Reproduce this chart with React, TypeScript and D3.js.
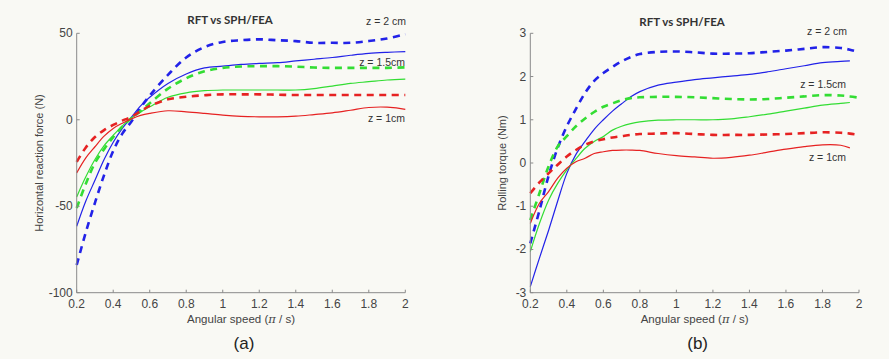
import React from 'react';
import * as d3 from 'd3';

// panel (a): horizontal reaction force
const xA = [0.2, 0.25, 0.3, 0.35, 0.4, 0.45, 0.5, 0.55, 0.6, 0.7, 0.8, 0.9, 1.0, 1.1, 1.2, 1.3, 1.4, 1.5, 1.6, 1.7, 1.8, 1.9, 2.0];
const blueDashA = [-84, -65, -48, -32, -18, -8, -1, 7, 14, 26, 36, 42, 45, 46, 46.5, 46, 45.5, 44.5, 44.5, 44.5, 45.5, 47, 49.5];
const blueA = [-61.6, -47, -35, -23, -13, -5, 1.5, 8, 13, 21, 26.5, 30, 31, 32, 32.6, 33, 34, 35, 36, 37.3, 38.4, 39, 39.4];
const greenDashA = [-51, -37, -25, -17, -10, -4, 1, 5, 9.5, 18, 24, 28, 30, 30.8, 31, 31, 30.7, 30.2, 30, 30, 30, 30, 30.3];
const greenA = [-44.6, -33, -23, -15, -9, -3.5, 1, 4.5, 7.5, 13, 15.6, 16.8, 17.2, 17.2, 17.2, 17.2, 17.2, 18, 19.5, 21, 22, 23, 23.5];
const redDashA = [-24.3, -16, -10, -6, -3, -0.5, 1.7, 5, 8, 11.8, 13.3, 14.2, 14.7, 14.7, 14.7, 14.5, 14.3, 14.3, 14.3, 14.3, 14.3, 14.3, 14.3];
const redA = [-30.7, -22, -15.6, -9.5, -5, -2, 0.5, 2.5, 3.7, 5.2, 4.6, 3.7, 2.7, 2, 1.7, 1.7, 2.1, 3, 4, 5.5, 7.1, 7.3, 6];

// panel (b): rolling torque
const xB = [0.2, 0.25, 0.3, 0.35, 0.4, 0.45, 0.5, 0.55, 0.6, 0.65, 0.7, 0.75, 0.8, 0.9, 1.0, 1.1, 1.2, 1.3, 1.4, 1.5, 1.6, 1.7, 1.8, 1.9, 1.95, 2.0];
const blueDashB = [-1.86, -1.1, -0.3, 0.35, 0.85, 1.25, 1.62, 1.9, 2.08, 2.22, 2.35, 2.45, 2.52, 2.57, 2.58, 2.56, 2.53, 2.53, 2.54, 2.57, 2.6, 2.64, 2.68, 2.66, 2.62, 2.56];
const blueB = [-2.86, -2.2, -1.56, -0.88, -0.24, 0.2, 0.5, 0.78, 1.0, 1.2, 1.37, 1.53, 1.65, 1.8, 1.87, 1.93, 1.97, 2.01, 2.05, 2.11, 2.18, 2.25, 2.32, 2.35, 2.36, null];
const greenDashB = [-1.32, -0.7, -0.08, 0.38, 0.62, 0.85, 1.03, 1.18, 1.3, 1.38, 1.45, 1.5, 1.52, 1.53, 1.53, 1.52, 1.5, 1.48, 1.47, 1.48, 1.51, 1.54, 1.57, 1.56, 1.54, 1.51];
const greenB = [-2.05, -1.4, -0.86, -0.47, -0.16, 0.1, 0.34, 0.5, 0.61, 0.76, 0.85, 0.91, 0.95, 0.99, 1.0, 1.0, 1.0, 1.02, 1.07, 1.13, 1.2, 1.27, 1.34, 1.38, 1.4, null];
const redDashB = [-0.7, -0.45, -0.24, -0.04, 0.15, 0.3, 0.42, 0.5, 0.55, 0.59, 0.62, 0.65, 0.67, 0.68, 0.69, 0.67, 0.65, 0.65, 0.65, 0.66, 0.67, 0.69, 0.71, 0.7, 0.68, 0.65];
const redB = [-1.4, -0.93, -0.66, -0.35, -0.12, 0.03, 0.11, 0.22, 0.26, 0.29, 0.3, 0.3, 0.29, 0.22, 0.17, 0.14, 0.11, 0.13, 0.18, 0.25, 0.32, 0.38, 0.42, 0.41, 0.35, null];

const xTicks = [0.2, 0.4, 0.6, 0.8, 1, 1.2, 1.4, 1.6, 1.8, 2];
const yTicksA = [-100, -50, 0, 50];
const yTicksB = [-3, -2, -1, 0, 1, 2, 3];

const BLUE = '#2222e8';
const GREEN = '#33dd33';
const RED = '#e62222';
const AXIS = '#8a8a8a';
const TEXT = '#444';
const FONT = 'Arial, "Liberation Sans", sans-serif';

interface Series { ys: (number | null)[]; color: string; dashed: boolean; }

interface PanelProps {
  left: number; right: number; top: number; bottom: number;
  xs: number[]; yDomain: [number, number]; yTicks: number[];
  series: Series[]; yLabel: string; labelOffset: number; tag: string;
  title: [number, number];
  zLabels: { text: string; x: number; y: number }[];
}

const Panel: React.FC<PanelProps> = p => {
  const x = d3.scaleLinear().domain([0.2, 2]).range([p.left, p.right]);
  const y = d3.scaleLinear().domain(p.yDomain).range([p.bottom, p.top]);
  const mid = (p.left + p.right) / 2;
  return (
    <g fontFamily={FONT}>
      {p.series.map((s, i) => {
        const line = d3.line<number | null>()
          .defined(d => d !== null)
          .x((_, j) => x(p.xs[j]))
          .y(d => y(d as number))
          .curve(d3.curveCatmullRom.alpha(0.5));
        return (
          <path key={i} d={line(s.ys) || ''} fill="none" stroke={s.color}
            strokeWidth={s.dashed ? 2.6 : 1.2}
            strokeDasharray={s.dashed ? '7,5.5' : undefined} />
        );
      })}
      <line x1={p.left} x2={p.left} y1={p.top} y2={p.bottom} stroke={AXIS} />
      <line x1={p.left} x2={p.right} y1={p.bottom} y2={p.bottom} stroke={AXIS} />
      {xTicks.map(t => (
        <g key={t}>
          <line x1={x(t)} x2={x(t)} y1={p.bottom} y2={p.bottom - 3} stroke={AXIS} />
          <text x={x(t)} y={p.bottom + 15} textAnchor="middle" fontSize={12} fill={TEXT}>{t}</text>
        </g>
      ))}
      {p.yTicks.map(t => (
        <g key={t}>
          <line x1={p.left} x2={p.left + 3} y1={y(t)} y2={y(t)} stroke={AXIS} />
          <text x={p.left - 4} y={y(t) + 4} textAnchor="end" fontSize={12} fill={TEXT}>{t}</text>
        </g>
      ))}
      <text x={p.title[0]} y={p.title[1]} textAnchor="middle" fontSize={11.5} fontWeight="bold"
        fontFamily="Lato, sans-serif" fill="#333">RFT vs SPH/FEA</text>
      {p.zLabels.map(z => (
        <text key={z.text} x={z.x} y={z.y} textAnchor="end" fontSize={10.5} fill="#333">{z.text}</text>
      ))}
      <text x={mid} y={p.bottom + 30} textAnchor="middle" fontSize={11.5} fill={TEXT}>
        Angular speed (<tspan fontFamily="'DejaVu Serif', serif" fontStyle="italic">π</tspan> / s)
      </text>
      <text transform={`translate(${p.left - p.labelOffset},${(p.top + p.bottom) / 2}) rotate(-90)`}
        textAnchor="middle" fontSize={11} fill={TEXT}>{p.yLabel}</text>
      <text x={mid + 3} y={p.bottom + 56} textAnchor="middle" fontSize={17} fill="#222">{p.tag}</text>
    </g>
  );
};

const App: React.FC = () => (
  <div style={{ position: 'fixed', left: 0, top: 0 }}>
    <svg width={889} height={359} style={{ display: 'block', background: '#f9f9f4' }}>
      <Panel left={76.7} right={405.3} top={33.3} bottom={292.7}
        xs={xA} yDomain={[-100, 50]} yTicks={yTicksA}
        series={[
          { ys: blueDashA, color: BLUE, dashed: true },
          { ys: blueA, color: BLUE, dashed: false },
          { ys: greenDashA, color: GREEN, dashed: true },
          { ys: greenA, color: GREEN, dashed: false },
          { ys: redDashA, color: RED, dashed: true },
          { ys: redA, color: RED, dashed: false },
        ]}
        yLabel="Horizontal reaction force (N)" labelOffset={34} tag="(a)" title={[230, 24]}
        zLabels={[
          { text: 'z = 2 cm', x: 406, y: 25 },
          { text: 'z = 1.5cm', x: 405, y: 66 },
          { text: 'z = 1cm', x: 405, y: 122 },
        ]} />
      <Panel left={530.3} right={859} top={33.3} bottom={292.7}
        xs={xB} yDomain={[-3, 3]} yTicks={yTicksB}
        series={[
          { ys: blueDashB, color: BLUE, dashed: true },
          { ys: blueB, color: BLUE, dashed: false },
          { ys: greenDashB, color: GREEN, dashed: true },
          { ys: greenB, color: GREEN, dashed: false },
          { ys: redDashB, color: RED, dashed: true },
          { ys: redB, color: RED, dashed: false },
        ]}
        yLabel="Rolling torque (Nm)" labelOffset={24} tag="(b)" title={[682, 26]}
        zLabels={[
          { text: 'z = 2 cm', x: 847, y: 35 },
          { text: 'z = 1.5cm', x: 846, y: 88 },
          { text: 'z = 1cm', x: 846, y: 161 },
        ]} />
    </svg>
  </div>
);

export default App;
